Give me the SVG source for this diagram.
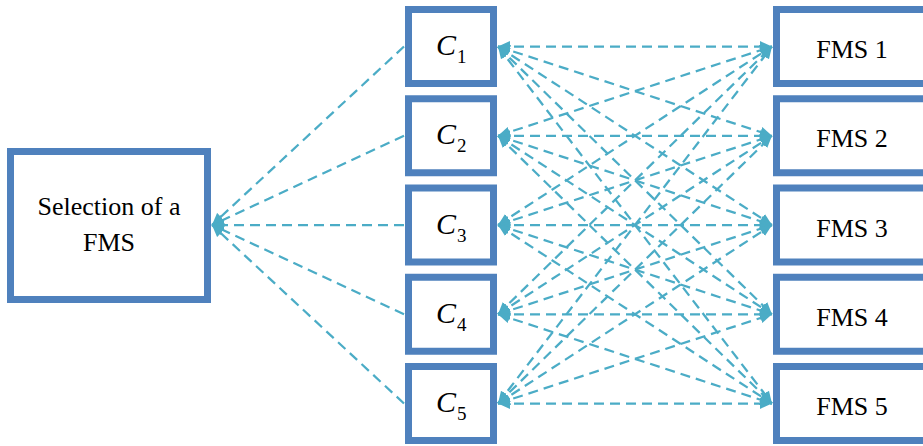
<svg xmlns="http://www.w3.org/2000/svg" width="923" height="446" viewBox="0 0 923 446">
<style>
.box{fill:#fff;stroke:#4F81BD;stroke-width:7}
.lbl{font-family:"Liberation Serif","Times New Roman",serif;font-size:26px;fill:#000;text-anchor:middle}
.c{font-family:"Liberation Serif","Times New Roman",serif;font-style:italic;font-size:30px;fill:#000}
.sub{font-family:"Liberation Serif","Times New Roman",serif;font-size:19px;fill:#000}
.ln{stroke:#4BACC6;stroke-width:2.25;stroke-dasharray:10 6;fill:none}
.two{marker-start:url(#ah);marker-end:url(#ah)}
.one{marker-end:url(#ah)}
</style>
<defs>
<marker id="ah" markerUnits="userSpaceOnUse" markerWidth="12" markerHeight="12" refX="10" refY="5" viewBox="0 0 10 10" orient="auto-start-reverse">
<path d="M0,0.5 L10,5 L0,9.5 Z" fill="#4BACC6"/>
</marker>
</defs>
<g id="connectors">
<line class="ln one" x1="404" y1="46.5" x2="212" y2="225"/>
<line class="ln one" x1="404" y1="135.75" x2="212" y2="225"/>
<line class="ln one" x1="404" y1="225" x2="212" y2="225"/>
<line class="ln one" x1="404" y1="314.25" x2="212" y2="225"/>
<line class="ln one" x1="404" y1="403.5" x2="212" y2="225"/>
<line class="ln two" x1="498" y1="46.5" x2="772" y2="46.5"/>
<line class="ln two" x1="498" y1="46.5" x2="772" y2="135.75"/>
<line class="ln two" x1="498" y1="46.5" x2="772" y2="225"/>
<line class="ln two" x1="498" y1="46.5" x2="772" y2="314.25"/>
<line class="ln two" x1="498" y1="46.5" x2="772" y2="403.5"/>
<line class="ln two" x1="498" y1="135.75" x2="772" y2="46.5"/>
<line class="ln two" x1="498" y1="135.75" x2="772" y2="135.75"/>
<line class="ln two" x1="498" y1="135.75" x2="772" y2="225"/>
<line class="ln two" x1="498" y1="135.75" x2="772" y2="314.25"/>
<line class="ln two" x1="498" y1="135.75" x2="772" y2="403.5"/>
<line class="ln two" x1="498" y1="225" x2="772" y2="46.5"/>
<line class="ln two" x1="498" y1="225" x2="772" y2="135.75"/>
<line class="ln two" x1="498" y1="225" x2="772" y2="225"/>
<line class="ln two" x1="498" y1="225" x2="772" y2="314.25"/>
<line class="ln two" x1="498" y1="225" x2="772" y2="403.5"/>
<line class="ln two" x1="498" y1="314.25" x2="772" y2="46.5"/>
<line class="ln two" x1="498" y1="314.25" x2="772" y2="135.75"/>
<line class="ln two" x1="498" y1="314.25" x2="772" y2="225"/>
<line class="ln two" x1="498" y1="314.25" x2="772" y2="314.25"/>
<line class="ln two" x1="498" y1="314.25" x2="772" y2="403.5"/>
<line class="ln two" x1="498" y1="403.5" x2="772" y2="46.5"/>
<line class="ln two" x1="498" y1="403.5" x2="772" y2="135.75"/>
<line class="ln two" x1="498" y1="403.5" x2="772" y2="225"/>
<line class="ln two" x1="498" y1="403.5" x2="772" y2="314.25"/>
<line class="ln two" x1="498" y1="403.5" x2="772" y2="403.5"/>
</g>
<g id="selection">
<rect class="box" x="10.5" y="151.5" width="197" height="148"/>
<text class="lbl" x="109" y="215">Selection of a</text>
<text class="lbl" x="109" y="251">FMS</text>
</g>
<g id="c1"><rect class="box" x="408.5" y="9.5" width="85" height="74"/><text class="c" x="436" y="55">C</text><text class="sub" x="457" y="63">1</text></g>
<g id="c2"><rect class="box" x="408.5" y="98.75" width="85" height="74"/><text class="c" x="436" y="144.25">C</text><text class="sub" x="457" y="152.25">2</text></g>
<g id="c3"><rect class="box" x="408.5" y="188" width="85" height="74"/><text class="c" x="436" y="233.5">C</text><text class="sub" x="457" y="241.5">3</text></g>
<g id="c4"><rect class="box" x="408.5" y="277.25" width="85" height="74"/><text class="c" x="436" y="322.75">C</text><text class="sub" x="457" y="330.75">4</text></g>
<g id="c5"><rect class="box" x="408.5" y="366.5" width="85" height="74"/><text class="c" x="436" y="412">C</text><text class="sub" x="457" y="420">5</text></g>
<g id="fms1"><rect class="box" x="776.5" y="9.5" width="160" height="74"/><text class="lbl" x="852" y="58">FMS 1</text></g>
<g id="fms2"><rect class="box" x="776.5" y="98.75" width="160" height="74"/><text class="lbl" x="852" y="147.25">FMS 2</text></g>
<g id="fms3"><rect class="box" x="776.5" y="188" width="160" height="74"/><text class="lbl" x="852" y="236.5">FMS 3</text></g>
<g id="fms4"><rect class="box" x="776.5" y="277.25" width="160" height="74"/><text class="lbl" x="852" y="325.75">FMS 4</text></g>
<g id="fms5"><rect class="box" x="776.5" y="366.5" width="160" height="74"/><text class="lbl" x="852" y="415">FMS 5</text></g>
</svg>
